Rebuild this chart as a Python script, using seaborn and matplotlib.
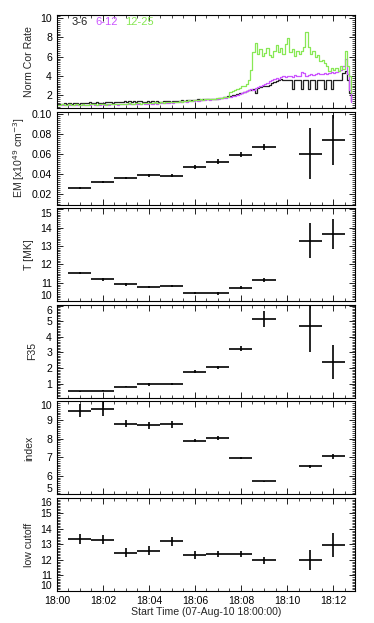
import numpy as np
import pandas as pd
import seaborn as sns
import matplotlib
matplotlib.use('Agg')
import matplotlib.pyplot as plt
from matplotlib.ticker import AutoMinorLocator, MultipleLocator, FixedLocator

# ---- light curves (normalised corrected rate), one value per 0.1 min from 18:00 ----
rate_dt = 0.1
rate_3_6 = [
    1.05, 1.10, 1.10, 1.15, 1.10, 1.15, 1.10, 1.20, 1.15, 1.10,
    1.15, 1.20, 1.20, 1.15, 1.25, 1.20, 1.20, 1.25, 1.20, 1.15,
    1.20, 1.25, 1.30, 1.25, 1.20, 1.30, 1.30, 1.25, 1.30, 1.35,
    1.30, 1.35, 1.30, 1.35, 1.30, 1.40, 1.35, 1.30, 1.30, 1.35,
    1.30, 1.35, 1.30, 1.35, 1.30, 1.30, 1.35, 1.40, 1.35, 1.30,
    1.35, 1.40, 1.35, 1.40, 1.45, 1.40, 1.45, 1.50, 1.45, 1.50,
    1.50, 1.55, 1.50, 1.55, 1.60, 1.55, 1.60, 1.65, 1.60, 1.65,
    1.70, 1.75, 1.80, 1.85, 1.90, 1.95, 2.00, 2.05, 2.10, 2.20,
    2.20, 2.30, 2.40, 2.50, 2.55, 2.60, 2.20, 2.70, 2.85, 3.00,
    2.90, 3.00, 3.10, 3.30, 3.40, 3.50, 3.60, 3.70, 3.60, 3.60,
    3.60, 3.60, 2.60, 3.60, 3.60, 3.60, 2.60, 3.60, 3.60, 2.60,
    3.60, 3.60, 2.60, 3.60, 3.60, 3.60, 2.60, 3.60, 3.60, 2.60,
    3.60, 3.60, 3.60, 3.60, 4.30, 4.50, 3.60, 2.20, 1.40,
]
rate_6_12 = [
    0.95, 1.00, 0.95, 1.00, 0.95, 0.95, 1.00, 0.95, 1.00, 0.95,
    1.00, 0.95, 1.00, 1.00, 0.95, 1.05, 1.00, 0.95, 1.00, 1.05,
    1.00, 1.05, 1.00, 1.05, 1.10, 1.05, 1.00, 1.05, 1.10, 1.05,
    1.05, 1.10, 1.05, 1.10, 1.10, 1.05, 1.10, 1.15, 1.10, 1.10,
    1.15, 1.10, 1.15, 1.10, 1.15, 1.20, 1.15, 1.20, 1.20, 1.25,
    1.20, 1.25, 1.30, 1.25, 1.30, 1.35, 1.30, 1.35, 1.40, 1.40,
    1.45, 1.40, 1.50, 1.45, 1.50, 1.55, 1.50, 1.55, 1.60, 1.60,
    1.65, 1.70, 1.70, 1.75, 1.80, 1.85, 1.90, 1.95, 2.00, 2.10,
    2.20, 2.30, 2.40, 2.50, 2.60, 2.50, 2.70, 2.80, 2.90, 3.10,
    3.20, 3.30, 3.50, 3.60, 3.70, 3.80, 3.70, 3.90, 4.00, 3.90,
    4.00, 4.00, 3.90, 4.10, 4.00, 4.00, 4.40, 4.30, 4.00, 4.10,
    4.20, 4.10, 4.20, 4.30, 4.20, 4.20, 4.30, 4.20, 4.30, 4.40,
    4.30, 4.40, 4.50, 4.60, 5.00, 5.80, 4.20, 2.50, 1.30,
]
rate_12_25 = [
    1.00, 1.00, 1.05, 1.00, 1.00, 1.05, 1.00, 1.00, 1.05, 1.00,
    1.00, 1.05, 1.00, 1.00, 1.05, 1.10, 1.05, 1.00, 1.05, 1.10,
    1.05, 1.00, 1.10, 1.05, 1.10, 1.05, 1.10, 1.10, 1.05, 1.10,
    1.10, 1.15, 1.10, 1.10, 1.20, 1.15, 1.10, 1.20, 1.15, 1.20,
    1.20, 1.15, 1.25, 1.20, 1.20, 1.30, 1.20, 1.25, 1.30, 1.25,
    1.30, 1.25, 1.30, 1.35, 1.30, 1.40, 1.35, 1.45, 1.40, 1.50,
    1.45, 1.50, 1.55, 1.50, 1.60, 1.55, 1.60, 1.65, 1.60, 1.70,
    1.70, 1.75, 1.80, 1.80, 1.85, 2.30, 2.40, 2.50, 2.60, 2.70,
    2.90, 3.00, 3.20, 3.60, 4.60, 6.50, 7.40, 6.30, 6.80, 6.10,
    6.40, 6.90, 6.20, 6.00, 6.60, 7.20, 6.50, 6.90, 6.30, 7.30,
    7.90, 6.50, 6.80, 6.10, 6.60, 6.30, 6.60, 7.00, 8.60, 7.00,
    6.30, 6.60, 6.00, 6.20, 5.50, 5.60, 5.30, 5.00, 4.50, 4.80,
    4.60, 4.80, 4.50, 5.00, 4.70, 6.60, 5.00, 4.00, 2.20,
]
band_names = ['3-6', '6-12', '12-25']
band_colors = ['#222222', '#cc55ff', '#88e855']

# ---- spectral fit results (minutes after 18:00) ----
fit_time = [1, 2, 3, 4, 5, 6, 7, 8, 9, 11, 12]
fit_halfwidth = [0.5] * 11
em = [0.0262, 0.0320, 0.0360, 0.0390, 0.0387, 0.0468, 0.0525, 0.0593, 0.0668, 0.0607, 0.0740]
em_err = [0.0008, 0.0010, 0.0010, 0.0015, 0.0015, 0.0020, 0.0025, 0.0025, 0.0030, 0.0258, 0.0250]
temp = [11.51, 11.18, 10.91, 10.75, 10.84, 10.45, 10.42, 10.73, 11.14, 13.27, 13.65]
temp_err = [0.05, 0.06, 0.06, 0.06, 0.06, 0.06, 0.06, 0.08, 0.10, 0.95, 0.80]
f35 = [0.51, 0.55, 0.82, 0.95, 0.99, 1.76, 2.04, 3.25, 5.15, 4.67, 2.37]
f35_err = [0.03, 0.04, 0.06, 0.08, 0.08, 0.10, 0.12, 0.16, 0.50, 1.64, 1.10]
index = [9.50, 9.60, 8.80, 8.71, 8.77, 7.89, 8.02, 6.96, 5.70, 6.52, 7.04]
index_err = [0.36, 0.36, 0.20, 0.20, 0.20, 0.10, 0.10, 0.05, 0.01, 0.08, 0.15]
low_cutoff = [13.38, 13.32, 12.48, 12.61, 13.21, 12.33, 12.40, 12.40, 11.97, 12.00, 12.96]
low_cutoff_err = [0.32, 0.30, 0.30, 0.30, 0.30, 0.25, 0.20, 0.20, 0.25, 0.66, 0.77]

xtick_pos = [0, 2, 4, 6, 8, 10, 12]
xtick_labels = ['18:00', '18:02', '18:04', '18:06', '18:08', '18:10', '18:12']

sns.set_style('ticks')
plt.rcParams['font.family'] = ['Liberation Sans', 'DejaVu Sans']
plt.rcParams['font.size'] = 7.6
plt.rcParams['axes.linewidth'] = 0.8
plt.rcParams['axes.edgecolor'] = 'black'
plt.rcParams['xtick.color'] = 'black'
plt.rcParams['ytick.color'] = 'black'

fig, axes = plt.subplots(6, 1, figsize=(3.74, 6.23), dpi=100, sharex=True)
fig.subplots_adjust(left=0.152, right=0.949, top=0.976, bottom=0.0514, hspace=0.039)

# light curves
ax = axes[0]
for rates, name, col in zip([rate_3_6, rate_6_12, rate_12_25], band_names, band_colors):
    df = pd.DataFrame({'t': np.arange(len(rates)) * rate_dt, 'rate': rates})
    sns.lineplot(data=df, x='t', y='rate', ax=ax, color=col, lw=0.9,
                 drawstyle='steps-post', estimator=None)
for name, col, xpos in zip(band_names, band_colors, [0.05, 0.128, 0.228]):
    ax.text(xpos, 0.925, name, color=col, transform=ax.transAxes, fontsize=8, va='center')
ax.set_ylim(0.67, 10.33)
ax.set_yticks([2, 4, 6, 8, 10])
ax.set_ylabel('Norm Cor Rate')

panels = [
    (em, em_err, r'EM [x10$^{49}$ cm$^{-3}$]', (0.0097, 0.1027), [0.02, 0.04, 0.06, 0.08, 0.10], '%.2f'),
    (temp, temp_err, 'T [MK]', (10, 15.05), [10, 11, 12, 13, 14, 15], '%d'),
    (f35, f35_err, 'F35', (0.1, 6.05), [1, 2, 3, 4, 5, 6], '%d'),
    (index, index_err, 'index', (5, 10), [5, 6, 7, 8, 9, 10], '%d'),
    (low_cutoff, low_cutoff_err, 'low cutoff', (10, 16), [10, 11, 12, 13, 14, 15, 16], '%d'),
]
for ax, (vals, errs, label, ylim, yticks, fmt) in zip(axes[1:], panels):
    ax.errorbar(fit_time, vals, xerr=fit_halfwidth, yerr=errs, fmt='none',
                ecolor='black', elinewidth=1.2, capsize=0)
    ax.set_ylim(*ylim)
    ax.set_yticks(yticks)
    ax.set_yticklabels([fmt % v for v in yticks])
    ax.set_ylabel(label)

label_x = [-0.075, -0.10, -0.075, -0.065, -0.075, -0.075]
for ax, lx in zip(axes, label_x):
    ax.set_xlim(0, 12.95)
    ax.xaxis.set_major_locator(FixedLocator(xtick_pos))
    ax.xaxis.set_minor_locator(MultipleLocator(0.5))
    ax.yaxis.set_minor_locator(AutoMinorLocator(10))
    ax.tick_params(which='both', direction='in', top=True, right=True, labelsize=7.6)
    ax.tick_params(which='major', length=4, width=0.6)
    ax.tick_params(which='minor', length=2, width=0.5)
    ax.set_xlabel('')
    ax.yaxis.set_label_coords(lx, 0.5)

# tick labels that sit right on a panel boundary: nudge them apart like the stacked IDL plot
fig.canvas.draw()
for ax in axes:
    lo, hi = ax.get_ylim()
    for tick in ax.yaxis.get_major_ticks():
        v = tick.get_loc()
        if abs(v - lo) < 0.02 * (hi - lo):
            tick.label1.set_va('bottom')
        elif abs(v - hi) < 0.02 * (hi - lo):
            tick.label1.set_va('top')

axes[-1].set_xticklabels(xtick_labels)
axes[-1].set_xlabel('Start Time (07-Aug-10 18:00:00)', labelpad=1)

fig.savefig('out.png', dpi=100)
